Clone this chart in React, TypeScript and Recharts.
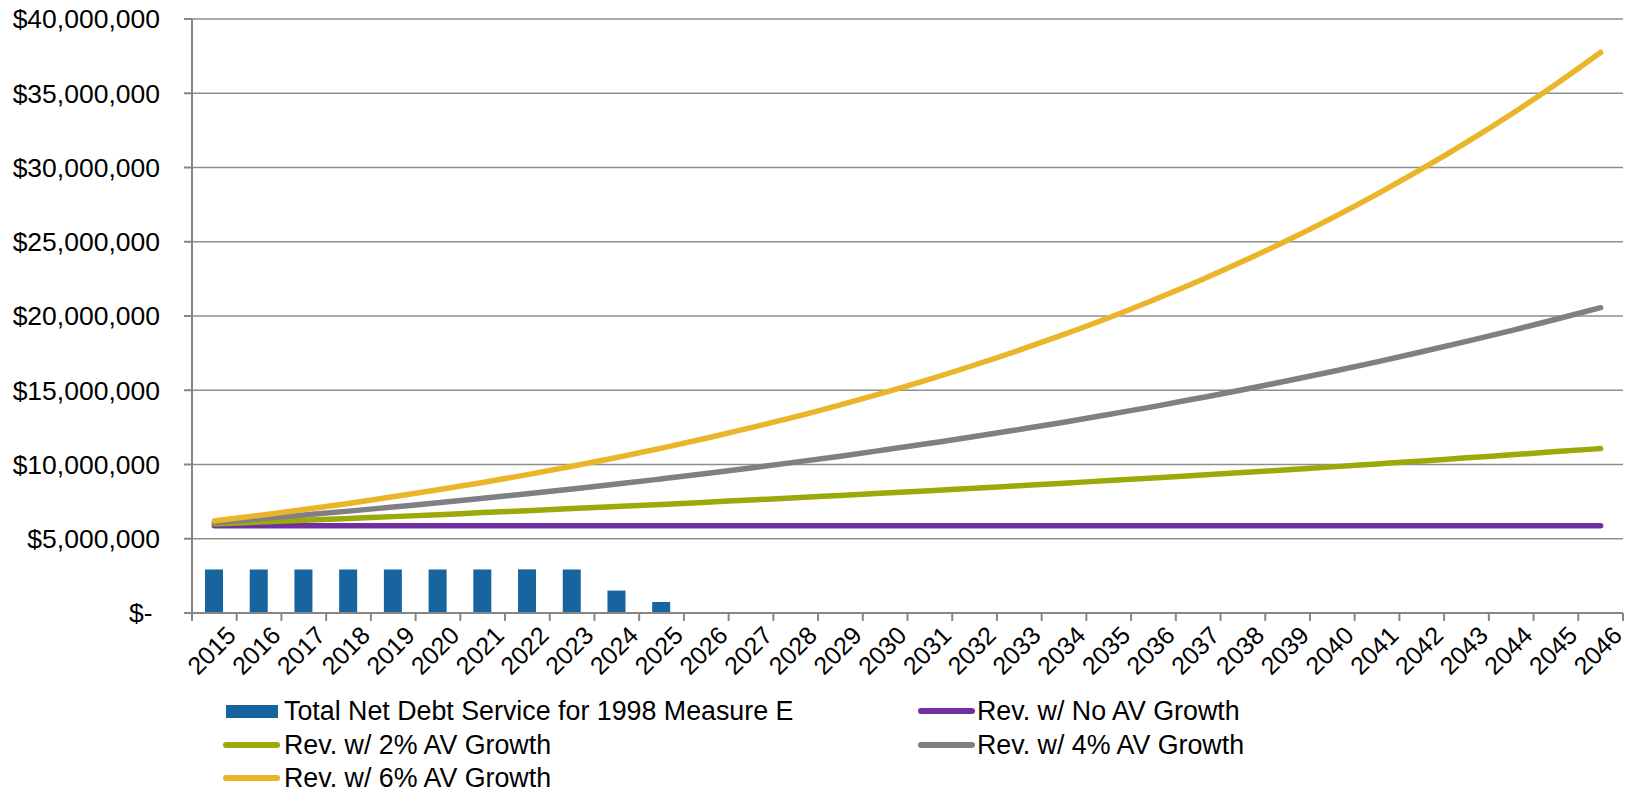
import React from 'react';
import { ComposedChart, Bar, Line, XAxis, YAxis, CartesianGrid, Legend } from 'recharts';

// Fiscal years shown along the bottom axis
const years = [
  '2015', '2016', '2017', '2018', '2019', '2020', '2021', '2022',
  '2023', '2024', '2025', '2026', '2027', '2028', '2029', '2030',
  '2031', '2032', '2033', '2034', '2035', '2036', '2037', '2038',
  '2039', '2040', '2041', '2042', '2043', '2044', '2045', '2046',
];

// Debt service only runs through 2025 (dollars)
const debtService = [
  2930000, 2930000, 2930000, 2930000, 2930000, 2930000,
  2930000, 2940000, 2930000, 1510000, 740000,
];

// Revenue projections, in millions of dollars
const revNoGrowth = [
  5.87, 5.87, 5.87, 5.87, 5.87, 5.87, 5.87, 5.87, 5.87, 5.87, 5.87,
  5.87, 5.87, 5.87, 5.87, 5.87, 5.87, 5.87, 5.87, 5.87, 5.87, 5.87,
  5.87, 5.87, 5.87, 5.87, 5.87, 5.87, 5.87, 5.87, 5.87, 5.87,
];
const rev2 = [
  6.0, 6.12, 6.24, 6.37, 6.49, 6.62, 6.76, 6.89, 7.03, 7.17, 7.31,
  7.46, 7.61, 7.76, 7.92, 8.08, 8.24, 8.4, 8.57, 8.74, 8.92, 9.09,
  9.28, 9.46, 9.65, 9.84, 10.04, 10.24, 10.45, 10.65, 10.87, 11.07,
];
const rev4 = [
  6.1, 6.34, 6.6, 6.86, 7.14, 7.42, 7.72, 8.03, 8.35, 8.68, 9.03,
  9.39, 9.77, 10.16, 10.56, 10.99, 11.43, 11.88, 12.36, 12.85, 13.37, 13.9,
  14.46, 15.03, 15.64, 16.26, 16.91, 17.59, 18.29, 19.02, 19.78, 20.56,
];
const rev6 = [
  6.2, 6.57, 6.97, 7.38, 7.83, 8.3, 8.79, 9.32, 9.88, 10.47, 11.1,
  11.77, 12.48, 13.22, 14.02, 14.86, 15.75, 16.7, 17.7, 18.76, 19.88, 21.08,
  22.34, 23.68, 25.1, 26.61, 28.21, 29.9, 31.69, 33.59, 35.61, 37.75,
];

const yTicks = [0, 5000000, 10000000, 15000000, 20000000, 25000000, 30000000, 35000000, 40000000];

const data = years.map((year, i) => ({
  year,
  debt: debtService[i] ?? null,
  noGrowth: revNoGrowth[i] * 1e6,
  g2: rev2[i] * 1e6,
  g4: rev4[i] * 1e6,
  g6: rev6[i] * 1e6,
}));

const FONT = '"Liberation Sans", Arial, Helvetica, sans-serif';
const AXIS_GRAY = '#868686';
const GRID_GRAY = '#8e8e8e';

const WIDTH = 1629;
const HEIGHT = 795;
const MARGIN = { top: 19, right: 6, left: 0, bottom: 0 };
const Y_AXIS_W = 192;
const PLOT_W = WIDTH - MARGIN.left - MARGIN.right - Y_AXIS_W;

const legendItems = [
  { label: 'Total Net Debt Service for 1998 Measure E', color: '#17649f', kind: 'bar' },
  { label: 'Rev. w/ No AV Growth', color: '#7030a0', kind: 'line' },
  { label: 'Rev. w/ 2% AV Growth', color: '#9baa0a', kind: 'line' },
  { label: 'Rev. w/ 4% AV Growth', color: '#7f7f85', kind: 'line' },
  { label: 'Rev. w/ 6% AV Growth', color: '#ebb52a', kind: 'line' },
];

const formatDollars = (v: number) =>
  v === 0 ? '$-\u00A0' : '$' + v.toLocaleString('en-US');

// Excel-style category axis: tick marks sit between categories, labels at 45°
const YearTick = (props: any) => {
  const { x, y, payload } = props;
  const bw = PLOT_W / years.length;
  const tx = x + 23;
  const ty = y + 24;
  const isLast = payload.value === years[years.length - 1];
  return (
    <g>
      <line x1={x - bw / 2} x2={x - bw / 2} y1={y} y2={y + 8} stroke={AXIS_GRAY} strokeWidth={2} />
      {isLast && <line x1={x + bw / 2} x2={x + bw / 2} y1={y} y2={y + 8} stroke={AXIS_GRAY} strokeWidth={2} />}
      <text
        x={tx}
        y={ty}
        textAnchor="end"
        transform={`rotate(-45 ${tx} ${ty})`}
        fill="#000"
        fontSize={25}
        fontFamily={FONT}
      >
        {payload.value}
      </text>
    </g>
  );
};

const LegendBox = () => (
  <div style={{ position: 'relative', width: WIDTH, height: 100, fontFamily: FONT, fontSize: 26.8, color: '#000' }}>
    {legendItems.map((item, i) => {
      const col = i % 2;
      const row = Math.floor(i / 2);
      const cy = 17 + row * 33.5;
      const swatchLeft = col === 0 ? 223 : 918;
      const textLeft = col === 0 ? 284 : 977;
      return (
        <React.Fragment key={item.label}>
          {item.kind === 'bar' ? (
            <div style={{ position: 'absolute', left: swatchLeft + 3, top: cy - 6.5, width: 52, height: 13, background: item.color }} />
          ) : (
            <div style={{ position: 'absolute', left: swatchLeft, top: cy - 3, width: 57, height: 6, borderRadius: 3, background: item.color }} />
          )}
          <div style={{ position: 'absolute', left: textLeft, top: cy - 15, lineHeight: '30px', whiteSpace: 'nowrap' }}>
            {item.label}
          </div>
        </React.Fragment>
      );
    })}
  </div>
);

const App: React.FC = () => {
  return (
    <div style={{ position: 'absolute', left: 0, top: 0, width: WIDTH, height: HEIGHT, background: '#fff' }}>
      <ComposedChart width={WIDTH} height={HEIGHT} data={data} margin={MARGIN}>
        <CartesianGrid vertical={false} stroke={GRID_GRAY} strokeWidth={1.5} />
        <XAxis
          dataKey="year"
          interval={0}
          height={182}
          tickSize={0}
          tickMargin={0}
          tickLine={false}
          axisLine={{ stroke: AXIS_GRAY, strokeWidth: 2 }}
          tick={<YearTick />}
        />
        <YAxis
          width={Y_AXIS_W}
          domain={[0, 40000000]}
          ticks={yTicks}
          interval={0}
          tickFormatter={formatDollars}
          tickSize={8}
          tickMargin={24}
          tickLine={{ stroke: AXIS_GRAY, strokeWidth: 2 }}
          axisLine={{ stroke: AXIS_GRAY, strokeWidth: 2 }}
          tick={{ fill: '#000', fontSize: 26.5, fontFamily: FONT }}
        />
        <Legend
          layout="horizontal"
          verticalAlign="middle"
          align="center"
          wrapperStyle={{ top: 694, left: 0, width: WIDTH, height: 100 }}
          content={<LegendBox />}
        />
        <Bar dataKey="debt" name="Total Net Debt Service for 1998 Measure E" fill="#17649f" barSize={18} isAnimationActive={false} />
        <Line type="monotone" dataKey="noGrowth" name="Rev. w/ No AV Growth" stroke="#7030a0" strokeWidth={5.5} strokeLinecap="round" dot={false} activeDot={false} isAnimationActive={false} />
        <Line type="monotone" dataKey="g2" name="Rev. w/ 2% AV Growth" stroke="#9baa0a" strokeWidth={5.5} strokeLinecap="round" dot={false} activeDot={false} isAnimationActive={false} />
        <Line type="monotone" dataKey="g4" name="Rev. w/ 4% AV Growth" stroke="#7f7f85" strokeWidth={5.5} strokeLinecap="round" dot={false} activeDot={false} isAnimationActive={false} />
        <Line type="monotone" dataKey="g6" name="Rev. w/ 6% AV Growth" stroke="#ebb52a" strokeWidth={5.5} strokeLinecap="round" dot={false} activeDot={false} isAnimationActive={false} />
      </ComposedChart>
    </div>
  );
};

export default App;
